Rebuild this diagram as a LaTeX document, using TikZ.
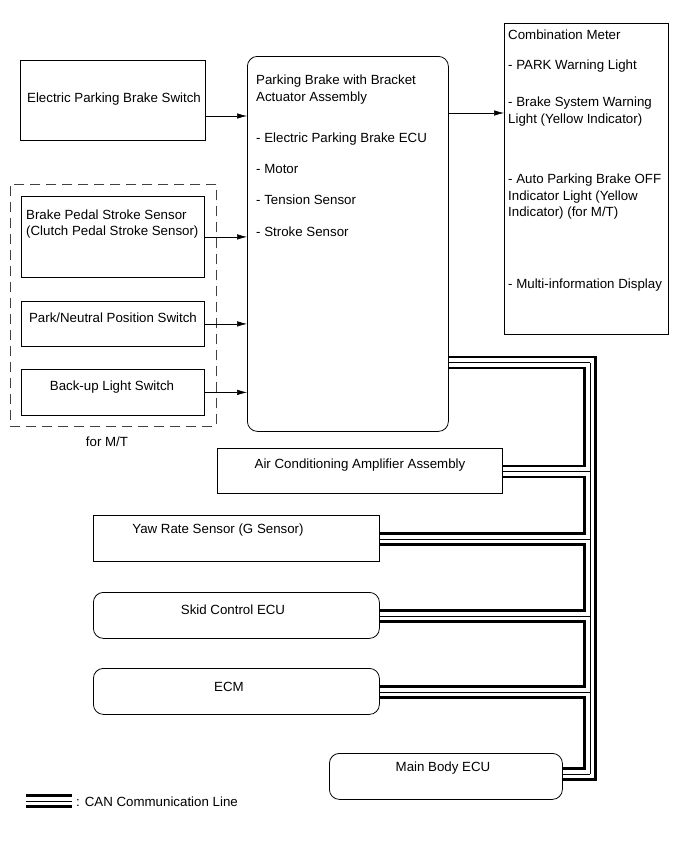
\documentclass[tikz,border=0pt]{standalone}
\usepackage{fontspec}
\setmainfont{Liberation Sans}
\usetikzlibrary{calc,arrows.meta}

\begin{document}
\begin{tikzpicture}[x=1pt, y=-1pt,
  font=\fontsize{13.3}{16.5}\selectfont,
  box/.style={draw, line width=0.8pt, inner sep=0pt, anchor=north west},
  ecu/.style={box, rounded corners=10pt},
  txt/.style={inner sep=0pt, align=left},
  sig/.style={-{Latex[length=10pt,width=5.5pt]}, line width=0.6pt},
  canthick/.style={line width=2.4pt},
  canthin/.style={line width=0.8pt}]
\useasboundingbox (0,0) rectangle (691,854);

\node[box, minimum width=185pt, minimum height=80pt] (sw) at (20,60) {};
\node[box, dashed, dash pattern=on 10pt off 6pt, draw=black!75, line width=0.6pt,
  minimum width=206pt, minimum height=242pt] (mt) at (10,184) {};
\node[box, minimum width=183pt, minimum height=81pt] (bp) at (21,196) {};
\node[box, minimum width=183pt, minimum height=45pt] (pn) at (21,301) {};
\node[box, minimum width=183pt, minimum height=46pt] (bu) at (21,369) {};
\node[ecu, minimum width=201pt, minimum height=375pt] (pb) at (247,56) {};
\node[box, minimum width=164pt, minimum height=311pt] (cm) at (504,23) {};
\node[box, minimum width=285pt, minimum height=45pt] (ac) at (217,448) {};
\node[box, minimum width=286pt, minimum height=46pt] (yaw) at (93,515) {};
\node[ecu, minimum width=286pt, minimum height=46pt] (skid) at (93,592) {};
\node[ecu, minimum width=286pt, minimum height=46pt] (ecm) at (93,668) {};
\node[ecu, minimum width=233pt, minimum height=46pt] (main) at (329,753) {};

\node[txt] (swt) at (114,99) {Electric Parking Brake Switch};
\node[txt, anchor=west] (bpt) at (26,224) {Brake Pedal Stroke Sensor\\(Clutch Pedal Stroke Sensor)};
\node[txt] (pnt) at (113,318) {Park/Neutral Position Switch};
\node[txt] (but) at (112,387) {Back-up Light Switch};
\node[txt] (mtt) at (107,442) {for M/T};

\node[txt, anchor=west] (pbt) at (256,89.5) {Parking Brake with Bracket\\Actuator Assembly};
\node[txt, anchor=west] (pb1) at (256,139) {- Electric Parking Brake ECU};
\node[txt, anchor=west] (pb2) at (256,169) {- Motor};
\node[txt, anchor=west] (pb3) at (256,200) {- Tension Sensor};
\node[txt, anchor=west] (pb4) at (256,232) {- Stroke Sensor};

\node[txt, anchor=west] (cmt) at (508,35) {Combination Meter};
\node[txt, anchor=west] (cm1) at (508,66) {- PARK Warning Light};
\node[txt, anchor=west] (cm2) at (508,111.5) {- Brake System Warning\\Light (Yellow Indicator)};
\node[txt, anchor=west] (cm3) at (508,197) {- Auto Parking Brake OFF\\Indicator Light (Yellow\\Indicator) (for M/T)};
\node[txt, anchor=west] (cm4) at (508,285) {- Multi-information Display};

\node[txt] (act) at (360,465) {Air Conditioning Amplifier Assembly};
\node[txt] (yawt) at (218,530) {Yaw Rate Sensor (G Sensor)};
\node[txt] (skidt) at (233,610) {Skid Control ECU};
\node[txt] (ecmt) at (229,687) {ECM};
\node[txt] (maint) at (443,768) {Main Body ECU};

\draw[sig] ([yshift=-56pt]sw.north east) coordinate (a1) -- (pb.west |- a1);
\draw[sig] (bp.east) -- (pb.west |- bp.east);
\draw[sig] (pn.east) -- (pb.west |- pn.east);
\draw[sig] (bu.east) -- (pb.west |- bu.east);
\draw[sig] ([yshift=-57pt]pb.north east) coordinate (a2) -- (cm.west |- a2);

\coordinate (j1) at (590,362.5);
\coordinate (j2) at (590,471.5);
\coordinate (j3) at (590,539);
\coordinate (j4) at (590,616);
\coordinate (j5) at (590,692);
\coordinate (j6) at (590,774);

\draw[canthin] (j1) -- (j6);
\foreach \n/\j in {pb/j1, ac/j2, yaw/j3, skid/j4, ecm/j5, main/j6}
  \draw[canthin] (\n.east |- \j) -- (\j);
\draw[canthick] ($(pb.east |- j1)+(0,-5.5)$) -- ($(j1)+(5.5,-5.5)$)
  -- ($(j6)+(5.5,5.5)$) -- ($(main.east |- j6)+(0,5.5)$);
\foreach \a/\ja/\b/\jb in {pb/j1/ac/j2, ac/j2/yaw/j3, yaw/j3/skid/j4, skid/j4/ecm/j5, ecm/j5/main/j6}
  \draw[canthick] ($(\a.east |- \ja)+(0,5.5)$) -- ($(\ja)+(-5.5,5.5)$)
    -- ($(\jb)+(-5.5,-5.5)$) -- ($(\b.east |- \jb)+(0,-5.5)$);

\coordinate (l1) at (26,801);
\coordinate (l2) at (72,801);
\draw[canthick] ($(l1)+(0,-5.5)$) -- ($(l2)+(0,-5.5)$);
\draw[canthin] (l1) -- (l2);
\draw[canthick] ($(l1)+(0,5.5)$) -- ($(l2)+(0,5.5)$);
\node[txt, anchor=west] (lgt) at (76,802) {: CAN Communication Line};
\end{tikzpicture}
\end{document}
